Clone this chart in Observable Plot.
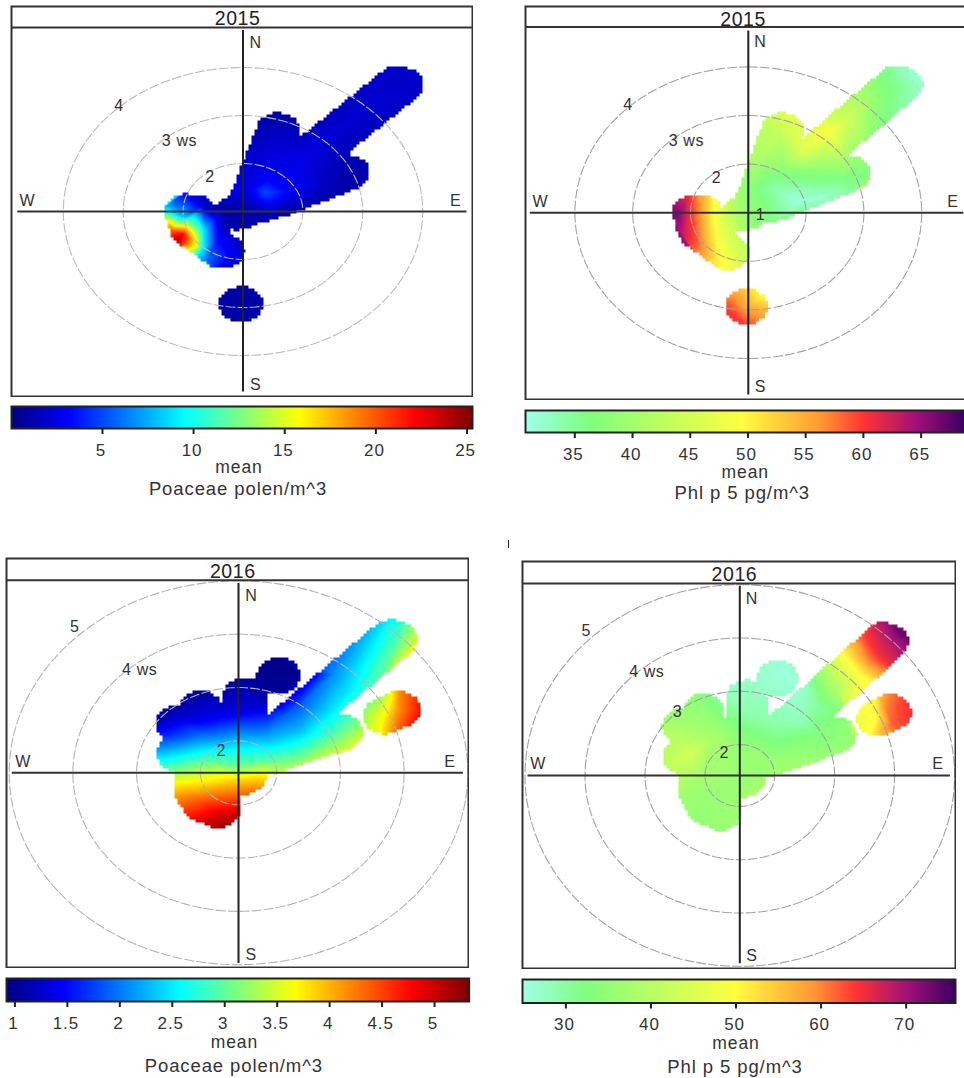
<!DOCTYPE html>
<html>
<head>
<meta charset="utf-8">
<script src="https://cdn.jsdelivr.net/npm/d3@7"></script>
<script src="https://cdn.jsdelivr.net/npm/@observablehq/plot@0.6"></script>
<style>
html,body{margin:0;padding:0;background:#fff;overflow:hidden}
#chart{position:relative;width:964px;height:1078px;overflow:hidden;background:#fff}
#mark{position:absolute;left:508px;top:540px;width:1px;height:8px;background:#222}
</style>
</head>
<body>
<div id="chart"><div id="mark"></div></div>
<script>
// Colour ramps
const jetColors = ["#00007F","#0000FF","#007FFF","#00FFFF","#7FFF7F","#FFFF00","#FF7F00","#FF0000","#7F0000"];
const jetStops = [0,.125,.25,.375,.5,.625,.75,.875,1];
const allergenColors = ["#A0FFE8","#80FF80","#FFFF40","#FF9A33","#FF3333","#A0107A","#3A0060"];
const allergenStops = [0,.146,.49,.67,.77,.89,1];

// Wind-sector footprints: [u1,v1,u2,v2] capsules in ws units
const footprint2015 = [
  [2.65,2.64,1.26,1.24],[2.58,2.66,1.2,1.28],[.59,1.69,.25,.6],[.25,.6,.1,.1],[.55,1.13,1.3,1.13],
  [1.75,.81,.6,.25],[.6,.25,.3,.15],[.6,.5,1.3,1.1],[1.3,1.1,1.5,.8],[.3,.5,1.3,.7],
  [-.95,0,-.8,-.02],[-.95,0,-.85,-.375],[-.85,-.375,-.35,-.82],[-.55,-.25,-.55,-.25],[-.1,-.02,0,.03],
  [-.03,-1.93,-.03,-1.93]
];
const footprint2016 = [
  [2.47,2.5,.79,.83],[2.4,2.53,.73,.87],[1.61,.76,.3,.25],[2.29,1.07,2.52,1.19],[.63,1.82,.63,1.82],
  [.11,1.45,.11,.7],[-.6,1.2,-.6,.5],[-.96,.92,-.6,.8],[-.94,.36,.3,.25],
  [-.6,.75,.11,.72],[.1,.72,.9,.72],[.6,.5,1.2,.85],
  [-.67,-.33,-.54,-.59],[-.54,-.59,-.31,-.69],[-.67,-.33,.1,-.05],[-.31,-.69,-.3,-.2],[-.67,-.1,-.1,-.1]
];

// Surface readings: [u, v, mean]
const poaceae2015 = [
  [2.9,2.8,1.8],[2.65,2.64,1.8],[2.3,2.3,2],[1.8,1.9,2],[1.4,1.55,2.3],[2.3,2.95,1.8],[3.1,2.4,1.8],
  [.59,2.1,1],[.2,1.7,1.3],[.95,1.8,1.3],[.59,1.69,1.6],
  [1,1.1,2.5],[.4,1,2.5],[.4,.65,3.2],[.38,.4,5],[.1,.5,2.6],[.8,.4,3],[.7,.12,1.6],[.15,.1,1.5],
  [1.3,.6,1.8],[1.75,.81,1.1],[2.15,.9,1],[1.5,1.1,1.6],[1.75,.4,1],[1.2,.25,1.4],[.5,-.05,1.5],
  [0,-.38,1],[-.3,.05,1],[-.3,-.3,1.2],[.35,-.25,1],
  [-1.16,.22,5],[-1.4,0,10],[-1.3,0,10],[-.94,.38,3],[-.65,.15,1.6],[-.43,-.12,2.5],
  [-1.24,-.19,15.5],[-1.19,-.4,20],[-1.1,-.61,24],[-1,-.47,22],[-.85,-.58,18],[-.77,-.72,15],
  [-.77,-.4,13],[-.99,-.12,8],[-.94,-.26,14],[-.65,-.4,9],[-.49,-.33,4.5],
  [-.65,-.75,9],[-.6,-.96,6],[-.38,-1.2,3],[-.15,-.89,2.5],[.05,-.78,2],[-.43,-.61,3.5],[-.8,-1,9],
  [-.03,-1.5,1],[-.45,-1.93,1],[.38,-1.93,1],[-.03,-2.35,1]
];
const phlp2015 = [
  [3.1,2.6,31.5],[2.87,2.78,32],[2.64,2.64,35],[2.3,2.95,36],[2.23,2.37,38],[1.77,1.95,44],[1.42,1.68,49],
  [.95,1.27,46],[.55,1.75,44],[.59,2.1,46],[.2,1.7,42],[.95,1.8,47],[.2,1.27,42],[.08,.51,37],[.43,.51,34],
  [.89,.24,31],[1.3,.31,32],[1.77,.79,37],[2.15,.9,37],[1.75,.35,34],[1.18,.86,38],[.6,.9,38],[-.15,.24,40],
  [-.25,.7,40],[.08,-.24,38],[.35,-.25,37],[-.38,.03,44],[-.62,-.03,50],[-.82,-.03,56],[-.99,-.03,60],
  [-1.2,-.03,66],[-1.4,0,67],[-1.14,-.45,63],[-.9,-.58,59],[-.73,-.45,54],[-.5,-.45,48],[-.56,-.93,51],
  [-.09,-.86,44],[-.7,-1.15,52],[0,-1.25,44],[-1,.4,60],[-.6,.4,50],
  [.23,-1.72,50],[-.03,-1.93,55],[-.38,-1.97,60],[-.03,-2.35,60],[.4,-1.9,52],[-.03,-1.5,52]
];
const poaceae2016 = [
  [.63,1.82,1],[.63,2.2,.95],[.25,1.82,1],[1,1.82,1],[.63,1.48,1],
  [.11,1.82,1.03],[.11,1.17,1.35],[-.23,1.54,1.1],[.45,1.36,1.15],
  [-.6,1.58,1.02],[-1.01,1.29,1.05],[-1.35,.92,1.15],[-1.01,1.04,1.25],[-.6,.98,1.4],[-1.12,.73,1.6],
  [-.6,.67,2],[-1.35,.42,2.2],[-1.17,.23,2.6],[-.6,.42,2.5],[-.39,.23,2.95],[-1.01,.11,2.95],[-.07,.42,2.6],[-.07,.11,3.05],
  [-.6,.01,3.4],[-.96,-.14,3.6],[-.6,-.21,3.8],[-.07,-.14,3.85],[-1.07,-.39,4],[-.6,-.52,4.4],[-.33,-.77,4.9],
  [-.18,-1.08,5.3],[-.7,-.95,4.9],[.06,-.77,5],[.29,-.08,3.8],[.29,-.3,4.2],[.55,-.2,4],
  [.45,.67,2.2],[.45,.29,2.85],[.97,.79,2.3],[.97,.29,3.05],[1.5,1.17,2.5],[1.5,.67,3],[1.81,.98,3],
  [1.99,.67,3.5],[1.81,.42,3.6],[1.23,.17,3.5],[.76,-.08,3.6],
  [.71,1.04,1.9],[.97,1.29,1.85],[1.5,1.86,2.1],[1.76,1.54,2.5],[2.02,2.04,2.6],[2.23,1.73,3],
  [2.18,2.73,2.4],[2.44,2.29,3],[2.54,2.92,2.7],[2.91,2.48,3.7],
  [1.94,1.11,3.2],[2.28,1.04,3.7],[2.49,1.17,4.1],[2.9,1.17,4.8],[2.54,1.56,4.2],[2.23,.72,3.7],[2.54,.7,4.5],[2.95,.8,4.8],[2.95,1.5,4.6]
];
const phlp2016 = [
  [.63,1.82,26],[.63,2.2,26],[1,1.82,26],[.25,1.82,27],[-.2,1.6,27],[.11,1.17,29],[.11,1.8,27],
  [-.6,1.58,33],[-1.01,1.29,36],[-.6,1.2,35],[-1,1,37],[-1.35,.92,38],[-1,.6,41],[-.84,.41,44],[-1.35,.42,40],[-1.1,.2,42],[-.4,.72,38],
  [0,.84,33],[-.07,.47,36],[-.68,-.03,38],[-.7,-.33,36],[-1.07,-.39,37],[-.33,-.69,36],[-.1,-1.05,36],[-.7,-.95,35],
  [.11,-.05,36],[.3,-.3,38],[.55,-.2,38],[.45,.3,36],
  [.71,.97,29],[1.27,1.34,30],[1,1.03,28],[1.27,.72,33],[1.82,.78,35],[1.6,.34,36],[.71,.16,37],[1.81,1.05,34],[2,.6,36],
  [1.38,1.59,34],[1.6,1.6,38],[1.85,1.85,46],[2,2,52],[2.15,2.15,60],[2.3,2.3,65],[2.47,2.5,68],[2.7,2.7,74],
  [1.75,2.25,50],[2.1,2.6,64],[2.4,2.95,70],[2.25,1.75,52],[2.55,2.1,66],[3,2.5,74],
  [1.93,1.09,48],[2.27,1.09,50],[2.43,1.28,60],[2.66,1.34,63],[2.9,1.22,65],[2.54,.97,62],[2.16,.72,50],[2.6,.7,60],[2.95,.8,64],[2.95,1.55,65],[2.5,1.58,60]
];

// Rings, ticks and labels
const rings2015 = [2,3,4];
const rings2016 = [2,3,4,5];
const ticksA = [5,10,15,20,25];
const ticksB = [35,40,45,50,55,60,65];
const ticksC = [1,1.5,2,2.5,3,3.5,4,4.5,5];
const ticksD = [30,40,50,60,70];
const labelsA = [["N",.21,3.52],["S",.21,-3.61],["W",-3.6,.22],["E",3.55,.22],["4",-2.07,2.21],["3 ws",-1.06,1.47],["2",-.55,.73]];
const labelsB = [["N",.21,3.51],["S",.21,-3.59],["W",-3.6,.22],["E",3.54,.22],["4",-2.08,2.21],["3 ws",-1.07,1.47],["2",-.55,.72],["1",.21,-.05]];
const labelsC = [["N",.2,3.32],["S",.2,-3.41],["W",-3.38,.2],["E",3.32,.2],["5",-2.57,2.73],["4 ws",-1.55,1.94],["2",-.27,.41]];
const labelsD = [["N",.2,3.31],["S",.2,-3.38],["W",-3.36,.22],["E",3.3,.22],["5",-2.56,2.72],["4 ws",-1.55,1.94],["3",-1.04,1.19],["2",-.26,.42]];

const chart = document.getElementById("chart");
const font = "'Liberation Sans', Arial, sans-serif";

function colorScale(domain, stops, colors) {
  const [lo, hi] = domain;
  return {type:"linear", domain:stops.map(t => lo + t*(hi-lo)), range:colors, interpolate:"rgb", clamp:true};
}

function masked(caps, r, xd, yd) {
  const base = Plot.interpolatorBarycentric();
  const step = 3; // footprint edge is stepped, the surface inside it stays smooth
  const inside = (u, v) => caps.some(([a,b,c,d]) => {
    const dx = c-a, dy = d-b, l = dx*dx+dy*dy;
    const t = l ? Math.max(0, Math.min(1, ((u-a)*dx+(v-b)*dy)/l)) : 0;
    const ex = u-a-t*dx, ey = v-b-t*dy;
    return ex*ex+ey*ey <= r*r;
  });
  return (index, w, h, X, Y, V) => {
    const W = base(index, w, h, X, Y, V);
    for (let j = 0; j < h; ++j) for (let i = 0; i < w; ++i) {
      const si = Math.floor(i/step)*step + step/2, sj = Math.floor(j/step)*step + step/2;
      const u = xd[0] + si/w*(xd[1]-xd[0]);
      const v = yd[1] - sj/h*(yd[1]-yd[0]);
      if (!inside(u, v)) W[i+j*w] = NaN;
    }
    return W;
  };
}

function panel(p) {
  const m = 1;
  const xd = [(p.left-p.cx)/p.sx, (p.right-p.cx)/p.sx];
  const yd = [(p.cy-p.bottom)/p.sy, (p.cy-p.top)/p.sy];
  const stripV = (p.cy-p.strip)/p.sy;
  const ringPts = p.rings.flatMap(ws => d3.range(0, 361, 2).map(a => ({
    ws, u:(ws-p.origin)*Math.sin(a*Math.PI/180), v:(ws-p.origin)*Math.cos(a*Math.PI/180)
  })));
  const samples = p.samples.map(([u,v,mean]) => ({u,v,mean}));
  const labels = p.labels.map(([t,u,v]) => ({t,u,v}));
  const svg = Plot.plot({
    width:p.right-p.left+2*m, height:p.bottom-p.top+2*m,
    marginLeft:m, marginRight:m, marginTop:m, marginBottom:m,
    x:{domain:xd, axis:null}, y:{domain:yd, axis:null},
    color:colorScale(p.valueDomain, p.stops, p.colors),
    style:{position:"absolute", left:(p.left-m)+"px", top:(p.top-m)+"px", fontFamily:font, background:"transparent", maxWidth:"none", letterSpacing:"0.6px"},
    marks:[
      Plot.raster(samples, {x:"u", y:"v", fill:"mean", pixelSize:1,
        interpolate:masked(p.footprint, p.radius, xd, yd)}),
      Plot.line(ringPts, {x:"u", y:"v", z:"ws", stroke:p.ringColor, strokeWidth:1.1, strokeDasharray:"9,3", clip:true}),
      Plot.ruleX([0], {y1:p.axisV[0], y2:p.axisV[1], stroke:"#222", strokeWidth:2}),
      Plot.ruleY([0], {x1:p.axisH[0], x2:p.axisH[1], stroke:"#333", strokeWidth:2}),
      Plot.text(labels, {x:"u", y:"v", text:"t", fontSize:16, fill:"#333"}),
      Plot.ruleY([stripV], {stroke:"#333", strokeWidth:2}),
      Plot.text([p.year], {x:() => -.09, y:() => p.titleV, text:d => d, fontSize:19.5, fill:"#222"}),
      Plot.frame({stroke:"#333", strokeWidth:2, fill:"none"})
    ]
  });
  chart.appendChild(svg);
}

function colorbar(p) {
  const m = 1, extra = 80;
  const bar = Plot.plot({
    width:p.barRight-p.left+2*m, height:p.barBottom-p.barTop+m*2+extra,
    marginLeft:m, marginRight:m, marginTop:m, marginBottom:m+extra,
    x:{domain:p.valueDomain, axis:null}, y:{domain:[0,1], axis:null},
    color:colorScale(p.valueDomain, p.stops, p.colors),
    style:{position:"absolute", left:(p.left-m)+"px", top:(p.barTop-m)+"px", fontFamily:font, background:"transparent", maxWidth:"none", overflow:"visible", letterSpacing:"0.9px"},
    marks:[
      Plot.raster({fill:(x,y) => x, x1:p.valueDomain[0], x2:p.valueDomain[1], y1:0, y2:1, pixelSize:1}),
      Plot.frame({stroke:"#222", strokeWidth:2, fill:"none"}),
      Plot.axisX(p.ticks, {anchor:"bottom", tickSize:6, text:null, label:null, stroke:"#222", strokeWidth:2}),
      Plot.axisX(p.ticks, {anchor:"bottom", tickSize:0, tickPadding:15, fontSize:17, tickFormat:d => String(d),
        label:null, fill:"#333", dx:-1.5}),
      Plot.text(["mean"], {frameAnchor:"bottom", dx:p.meanDx, dy:p.meanDy, fontSize:17.5, fill:"#333", text:d => d, lineAnchor:"middle"}),
      Plot.text([p.caption], {frameAnchor:"bottom", dx:p.capDx, dy:p.capDy, fontSize:18.5, fill:"#333", text:d => d, lineAnchor:"middle"})
    ]
  });
  chart.appendChild(bar);
}

const configs = [
  {year:"2015", left:11, right:472, top:6, strip:27, bottom:396, cx:242.5, cy:211, sx:59.9, sy:48, origin:1, titleV:4.01,
   axisV:[-3.76,3.77], axisH:[-3.76,3.74], rings:rings2015, ringColor:"#bbb", radius:.37, footprint:footprint2015, samples:poaceae2015, labels:labelsA,
   valueDomain:[.01,25.3], stops:jetStops, colors:jetColors, ticks:ticksA, barTop:406, barBottom:428, barRight:472,
   caption:"Poaceae polen/m^3", meanDx:-3, meanDy:39, capDx:-4, capDy:61},
  {year:"2015", left:524.5, right:967, top:5.5, strip:26, bottom:398.5, cx:747.3, cy:211.7, sx:57.8, sy:48.6, origin:1, titleV:3.98,
   axisV:[-3.75,3.74], axisH:[-3.77,3.73], rings:rings2015, ringColor:"#a2a2a2", radius:.37, footprint:footprint2015, samples:phlp2015, labels:labelsB,
   valueDomain:[30.73,68.8], stops:allergenStops, colors:allergenColors, ticks:ticksB, barTop:409.5, barBottom:431.5, barRight:964,
   caption:"Phl p 5 pg/m^3", meanDx:0, meanDy:39.5, capDx:-3, capDy:61},
  {year:"2016", left:6, right:468, top:558, strip:579.7, bottom:967, cx:238, cy:772.3, sx:63.7, sy:53.3, origin:1.4, titleV:3.78,
   axisV:[-3.58,3.55], axisH:[-3.55,3.53], rings:rings2016, ringColor:"#b4b4b4", radius:.345, footprint:footprint2016, samples:poaceae2016, labels:labelsC,
   valueDomain:[.92,5.33], stops:jetStops, colors:jetColors, ticks:ticksC, barTop:978, barBottom:1001, barRight:468.7,
   caption:"Poaceae polen/m^3", meanDx:-3.5, meanDy:41, capDx:-4, capDy:65},
  {year:"2016", left:522, right:955, top:561, strip:583, bottom:968, cx:739.3, cy:775, sx:60, sy:53.3, origin:1.42, titleV:3.77,
   axisV:[-3.53,3.55], axisH:[-3.53,3.51], rings:rings2016, ringColor:"#a2a2a2", radius:.345, footprint:footprint2016, samples:phlp2016, labels:labelsD,
   valueDomain:[24.9,75.8], stops:allergenStops, colors:allergenColors, ticks:ticksD, barTop:978.5, barBottom:1002, barRight:955,
   caption:"Phl p 5 pg/m^3", meanDx:-3, meanDy:40, capDx:-4, capDy:64}
];
configs.forEach(p => { panel(p); colorbar(p); });
</script>
</body>
</html>
